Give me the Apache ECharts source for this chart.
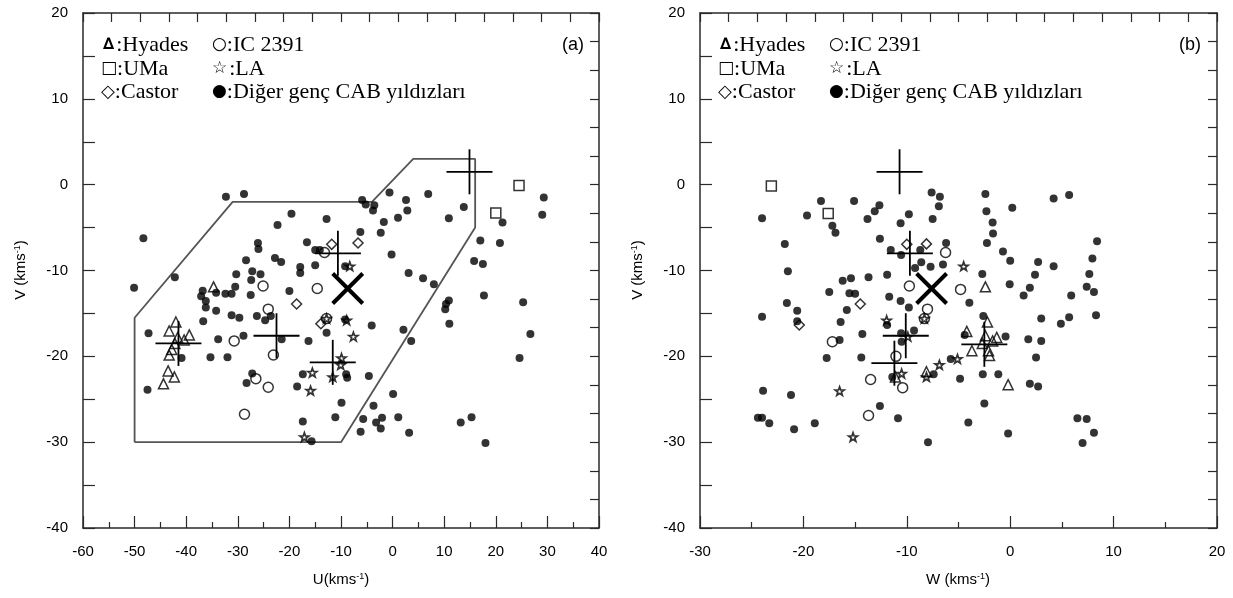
<!DOCTYPE html>
<html><head><meta charset="utf-8">
<script src="https://cdn.jsdelivr.net/npm/echarts@6/dist/echarts.min.js"></script>
<style>html,body{margin:0;padding:0;background:#fff}#c{width:1233px;height:598px}</style>
</head><body><div id="c"></div>
<script>
// ---------- DATA ----------
// Panel (a): [U, V]   Panel (b): [W, V]
const hyadesUV = [[-34.7,-11.9],[-42.0,-16.0],[-43.3,-17.05],[-39.4,-17.5],[-41.65,-17.8],[-40.4,-18.1],[-42.2,-18.5],[-42.8,-19.2],[-43.3,-19.85],[-43.5,-21.7],[-42.3,-22.4],[-44.4,-23.2]];
const hyadesWV = [[-2.4,-11.9],[-2.2,-16.0],[-4.2,-17.1],[-2.4,-17.6],[-1.3,-17.8],[-1.7,-18.2],[-2.7,-18.5],[-3.7,-19.35],[-2.1,-19.35],[-2.0,-19.9],[-8.1,-21.8],[-11.1,-22.4],[-0.2,-23.3]];
const ic2391UV = [[-13.2,-7.9],[-25.1,-11.8],[-14.6,-12.1],[-24.1,-14.5],[-12.8,-15.6],[-30.7,-18.2],[-23.1,-19.85],[-26.5,-22.6],[-24.1,-23.6],[-28.7,-26.75]];
const ic2391WV = [[-6.25,-7.9],[-9.75,-11.8],[-4.8,-12.2],[-8.0,-14.5],[-8.3,-15.6],[-17.2,-18.3],[-11.05,-20.0],[-13.5,-22.7],[-10.4,-23.65],[-13.7,-26.9]];
const umaUV = [[24.5,-0.1],[20.0,-3.3]];
const umaWV = [[-23.1,-0.15],[-17.6,-3.35]];
const laUV = [[-8.3,-9.5],[-7.6,-17.7],[-9.9,-20.2],[-10.05,-21.0],[-15.55,-21.9],[-15.9,-24.0],[-11.6,-22.4],[-17.1,-29.4],[-12.8,-15.6],[-8.9,-15.8]];
const laWV = [[-4.5,-9.5],[-9.9,-17.7],[-10.5,-22.0],[-8.1,-22.4],[-6.85,-21.0],[-5.1,-20.3],[-16.5,-24.05],[-15.2,-29.4],[-8.3,-15.6],[-11.95,-15.8]];
const castorUV = [[-11.8,-6.95],[-6.7,-6.8],[-18.6,-13.9],[-13.9,-16.2]];
const castorWV = [[-10.0,-6.95],[-8.1,-6.9],[-14.5,-13.9],[-20.4,-16.35]];
const othersUV = [
 [-32.3,-1.4],[-28.8,-1.1],[-48.3,-6.25],[-19.6,-3.4],[-22.3,-4.7],[-12.8,-4.0],[-26.1,-6.8],[-26.0,-7.5],[-16.6,-6.7],[-15.0,-7.6],[-14.1,-7.6],
 [-22.8,-8.55],[-21.6,-9.0],[-28.4,-8.8],[-17.9,-9.6],[-17.9,-10.3],[-15.0,-9.4],[-27.2,-10.1],[-25.6,-10.45],[-30.3,-10.45],[-27.4,-11.1],
 [-42.2,-10.8],[-50.1,-12.0],[-30.5,-11.9],[-36.8,-12.35],[-37.1,-13.0],[-34.2,-12.6],[-32.4,-12.7],[-31.2,-12.7],[-27.5,-12.85],[-36.2,-13.55],
 [-20.0,-12.4],[-36.2,-14.3],[-34.2,-14.7],[-31.2,-15.2],[-29.7,-15.5],[-26.3,-15.3],[-9.2,-9.5],[-9.2,-15.7],
 [-5.9,-1.8],[-5.2,-2.3],[-3.55,-2.4],[-3.8,-3.0],[-0.6,-0.9],[2.6,-1.8],[2.85,-3.0],[6.9,-1.1],[1.05,-3.85],[-1.7,-4.35],[-6.25,-5.5],[-2.3,-5.6],
 [10.9,-3.9],[13.8,-2.6],[21.3,-4.4],[17.0,-6.5],[20.8,-6.8],[29.3,-1.5],[29.0,-3.5],[-0.2,-8.15],[15.8,-8.9],[17.5,-9.25],[3.1,-10.3],[5.9,-10.9],
 [8.0,-11.6],[17.7,-12.9],[25.3,-13.7],[10.9,-13.5],[10.35,-13.9],[10.2,-14.5],
 [11.0,-16.2],[-4.05,-16.4],[2.1,-16.9],[3.6,-18.2],[26.7,-17.4],[24.6,-20.2],[-9.0,-22.1],[-8.8,-22.5],[-4.6,-22.3],[0.1,-24.4],[-9.9,-25.4],
 [-3.7,-25.75],[-5.7,-27.3],[-3.2,-27.7],[-2.05,-27.15],[-2.3,-28.4],[1.1,-27.1],[-6.2,-28.8],[3.2,-28.9],[13.2,-27.7],[15.3,-27.1],[18.0,-30.1],
 [-24.7,-15.8],[-23.6,-15.3],[-36.7,-15.9],[-47.3,-17.3],[-33.8,-18.0],[-28.9,-17.6],[-40.9,-20.2],[-35.3,-20.1],[-32.0,-20.1],[-21.5,-18.0],
 [-16.3,-18.2],[-12.8,-17.25],[-27.2,-22.0],[-28.3,-23.1],[-47.5,-23.9],[-17.4,-22.1],[-18.5,-23.5],[-11.1,-27.1],[-17.4,-27.6],[-15.7,-29.9]
];
const othersWV = [
 [-24.0,-3.9],[-18.3,-1.9],[-15.1,-1.9],[-19.65,-3.6],[-17.2,-4.8],[-16.9,-5.6],[-13.8,-4.0],[-13.1,-3.1],[-12.65,-2.4],[-9.8,-3.45],[-10.6,-4.5],
 [-7.6,-0.9],[-6.8,-1.4],[-6.9,-2.5],[-7.5,-4.0],[-21.8,-6.9],[-12.6,-6.3],[-11.55,-7.6],[-10.55,-8.2],[-8.7,-7.6],[-6.2,-6.8],[-8.6,-9.05],
 [-7.7,-9.55],[-9.2,-9.7],[-6.5,-9.3],[-21.5,-10.1],[-11.9,-10.5],[-13.7,-10.8],[-15.4,-10.9],[-16.2,-11.2],[-17.5,-12.5],[-15.55,-12.65],
 [-15.0,-12.7],[-11.7,-13.05],[-10.6,-13.55],[-9.8,-14.3],[-21.6,-13.8],[-20.6,-14.7],[-15.8,-14.6],[-24.0,-15.4],
 [-2.4,-1.1],[-2.3,-3.1],[0.2,-2.7],[-1.7,-4.4],[-1.66,-5.7],[-2.25,-6.8],[4.2,-1.6],[5.7,-1.2],[8.4,-6.6],[-0.7,-7.8],[0.0,-8.85],[2.7,-9.0],
 [4.2,-9.5],[7.95,-8.6],[-2.7,-10.4],[2.4,-10.5],[7.65,-10.4],[-0.05,-11.6],[1.9,-12.0],[1.3,-12.9],[7.4,-11.9],[8.1,-12.5],[5.9,-12.9],
 [-3.95,-13.75],[-2.6,-15.3],[3.0,-15.6],[5.7,-15.45],[8.3,-15.2],
 [-20.6,-15.9],[-16.4,-16.0],[-14.3,-17.4],[-16.5,-18.1],[-11.9,-16.35],[-10.55,-17.3],[-9.3,-17.0],[-10.5,-18.3],[-17.75,-20.2],[-14.4,-20.15],
 [-11.4,-22.4],[-7.4,-22.1],[-5.75,-20.3],[-4.85,-22.6],[-23.9,-24.0],[-21.2,-24.5],[-24.4,-27.15],[-24.0,-27.15],[-23.3,-27.8],[-20.9,-28.5],
 [-18.9,-27.8],[-12.6,-25.8],[-10.85,-27.2],[-7.95,-30.0],
 [4.9,-16.2],[-4.4,-17.5],[-0.45,-17.7],[1.75,-18.0],[3.0,-18.2],[2.5,-20.15],[-2.65,-22.1],[-1.15,-22.1],[1.9,-23.2],[2.7,-23.5],[-2.5,-25.5],
 [-4.05,-27.7],[-0.2,-29.0],[6.5,-27.2],[7.4,-27.3],[8.1,-28.9],[7.0,-30.1]
];
// moving-group centres (+ marks): Hyades, IC 2391, UMa, Castor, LA
const groupNames = ['Hyades','IC 2391','UMa','Castor','LA'];
const groupUV = [[-41.5,-18.5],[-22.5,-17.6],[14.9,1.5],[-10.6,-8.0],[-11.6,-20.7]];
const groupWV = [[-2.5,-18.6],[-10.1,-17.6],[-10.7,1.5],[-9.7,-8.0],[-11.2,-20.8]];
// sample mean (X mark)
const meanUV = [[-8.7,-12.1]];
const meanWV = [[-7.6,-12.1]];
// young-disc region boundary (panel a)
const regionUV = [[-50,-30],[-50,-15.5],[-31,-2],[-4,-2],[4,3],[16,3],[16,-5],[-10,-30],[-50,-30]];
// axis settings
const uRange = [-60, 40], wRange = [-30, 20], vRange = [-40, 20];
const legendRows = [[['tri','\u2206','Hyades'],['cir','\u25CB','IC 2391']],[['sq','\u25A1','UMa'],['st','\u2606','LA']],[['di','\u25C7','Castor'],['dot','\u25CF','Di\u011Fer gen\u00E7 CAB y\u0131ld\u0131zlar\u0131']]];

// ---------- CHART ----------
const chart = echarts.init(document.getElementById('c'), null, {renderer:'canvas'});
const AX = '#2a2a2a';
const lblFont = {fontFamily:'Liberation Sans, Arial, sans-serif', fontSize:15, color:'#000'};
const starPath = 'path://M0,-1 L0.235,-0.324 L0.951,-0.309 L0.380,0.124 L0.588,0.809 L0,0.4 L-0.588,0.809 L-0.380,0.124 L-0.951,-0.309 L-0.235,-0.324 Z';

function mainX(grid, r){
  return {gridIndex:grid, type:'value', min:r[0], max:r[1], interval:10, position:'bottom',
    axisLine:{onZero:false, lineStyle:{color:AX, width:1.5}},
    axisTick:{inside:true, length:12, lineStyle:{color:AX, width:1.2}},
    minorTick:{show:true, splitNumber:2, length:6, lineStyle:{color:AX, width:1.2}},
    axisLabel:Object.assign({margin:16}, lblFont), splitLine:{show:false}, minorSplitLine:{show:false}};
}
function mainY(grid){
  return {gridIndex:grid, type:'value', min:vRange[0], max:vRange[1], interval:10, position:'left',
    axisLine:{onZero:false, lineStyle:{color:AX, width:1.5}},
    axisTick:{inside:true, length:12, lineStyle:{color:AX, width:1.2}},
    minorTick:{show:true, splitNumber:2, length:12, lineStyle:{color:AX, width:1.2}},
    axisLabel:Object.assign({margin:15}, lblFont), splitLine:{show:false}, minorSplitLine:{show:false}};
}
function deco(grid, isX){
  return {gridIndex:grid, type:'value', min:0, max:18, interval:1, position: isX?'top':'right',
    axisLine:{onZero:false, lineStyle:{color:AX, width:1.5}},
    axisTick:{inside:true, length:9, lineStyle:{color:AX, width:1.2}},
    axisLabel:{show:false}, splitLine:{show:false}};
}
function scat(data, xi, yi, symbol, size, filled, bw){
  return {type:'scatter', xAxisIndex:xi, yAxisIndex:yi, data:data, symbol:symbol, symbolSize:size,
    itemStyle: filled ? {color:'#000', borderWidth:0} : {color:'rgba(0,0,0,0)', borderColor:'#000', borderWidth:bw||1.5},
    emphasis:{disabled:true}, silent:true, z:3};
}
function crosses(data, xi, yi){
  return {type:'custom', xAxisIndex:xi, yAxisIndex:yi, data:data, silent:true, z:4, encode:{x:0,y:1},
    renderItem:function(p, api){
      const c = api.coord([api.value(0), api.value(1)]);
      const st = {stroke:'#000', lineWidth:1.8};
      return {type:'group', children:[
        {type:'line', shape:{x1:c[0]-23, y1:c[1], x2:c[0]+23, y2:c[1]}, style:st},
        {type:'line', shape:{x1:c[0], y1:c[1]-22.5, x2:c[0], y2:c[1]+22.5}, style:st}]};
    }};
}
function bigX(data, xi, yi){
  return {type:'custom', xAxisIndex:xi, yAxisIndex:yi, data:data, silent:true, z:5, encode:{x:0,y:1},
    renderItem:function(p, api){
      const c = api.coord([api.value(0), api.value(1)]);
      const st = {stroke:'#000', lineWidth:4};
      const h = 15;
      return {type:'group', children:[
        {type:'line', shape:{x1:c[0]-h, y1:c[1]-h, x2:c[0]+h, y2:c[1]+h}, style:st},
        {type:'line', shape:{x1:c[0]-h, y1:c[1]+h, x2:c[0]+h, y2:c[1]-h}, style:st}]};
    }};
}
function panelSeries(xi, yi, d){
  return [
    scat(d.others, xi, yi, 'circle', 8, true),
    scat(d.hy, xi, yi, 'triangle', 10, false),
    scat(d.ic, xi, yi, 'circle', 10, false),
    scat(d.uma, xi, yi, 'rect', 10, false),
    scat(d.la, xi, yi, starPath, [9,8.6], false, 1.7),
    scat(d.ca, xi, yi, 'diamond', [10,10], false),
    crosses(d.groups, xi, yi),
    bigX(d.mean, xi, yi)
  ];
}

const serif = 'Liberation Serif, Times New Roman, serif';
const sans = 'DejaVu Sans, sans-serif';
const legRich = {
  t:{fontFamily:serif, fontSize:22, color:'#000'},
  tri:{fontFamily:'DejaVu Sans, sans-serif', fontWeight:'bold', fontSize:16, color:'#000', verticalAlign:'middle', padding:[0,2,0,2]},
  cir:{fontFamily:sans, fontSize:17, color:'#000'},
  sq:{fontFamily:sans, fontSize:17, color:'#555'},
  st:{fontFamily:sans, fontSize:17, color:'#000', padding:[0,2,0,0]},
  di:{fontFamily:sans, fontSize:18, color:'#000'},
  dot:{fontFamily:sans, fontSize:17, color:'#000'}
};
const graphics = [];
function legendAt(x0, x1, tag, tagX){
  const ys = [45, 69, 92];
  legendRows.forEach(function(r, i){
    [x0, x1].forEach(function(x, j){
      const e = r[j];
      graphics.push({type:'text', x:x, y:ys[i], style:{text:'{'+e[0]+'|'+e[1]+'}{t|:'+e[2]+'}', rich:legRich, textVerticalAlign:'middle', verticalAlign:'middle'}});
    });
  });
  graphics.push({type:'text', x:tagX, y:45, style:{text:tag, font:'18px Liberation Sans, Arial, sans-serif', fill:'#000', textAlign:'center', align:'center', textVerticalAlign:'middle', verticalAlign:'middle'}});
}
legendAt(101, 212, '(a)', 573);
legendAt(718, 829, '(b)', 1190);
function axName(x, y, txt, rot){
  graphics.push({type:'text', x:x, y:y, rotation:rot||0, style:{text:'{n|'+txt+'(kms}{s|-1}{n|)}', fill:'#000', textAlign:'center', align:'center', textVerticalAlign:'middle', verticalAlign:'middle',
    rich:{n:{fontSize:15, fontFamily:'Liberation Sans, Arial, sans-serif', color:'#000'}, s:{fontSize:9, fontFamily:'Liberation Sans, Arial, sans-serif', verticalAlign:'top', color:'#000'}}}});
}
axName(341, 580, 'U');
axName(958, 580, 'W ');
axName(21, 270, 'V ', Math.PI/2);
axName(638, 270, 'V ', Math.PI/2);

const option = {
  animation:false,
  backgroundColor:'#fff',
  grid:[{left:83, top:13, width:516, height:515}, {left:700, top:13, width:517, height:515}],
  xAxis:[mainX(0, uRange), deco(0, true), mainX(1, wRange), deco(1, true)],
  yAxis:[mainY(0), deco(0, false), mainY(1), deco(1, false)],
  series: [].concat(
    [{type:'line', xAxisIndex:0, yAxisIndex:0, data:regionUV, symbol:'none', silent:true, z:2,
      lineStyle:{color:'#555', width:1.8}}],
    panelSeries(0, 0, {others:othersUV, hy:hyadesUV, ic:ic2391UV, uma:umaUV, la:laUV, ca:castorUV, groups:groupUV, mean:meanUV}),
    panelSeries(2, 2, {others:othersWV, hy:hyadesWV, ic:ic2391WV, uma:umaWV, la:laWV, ca:castorWV, groups:groupWV, mean:meanWV})
  ),
  graphic: graphics
};
chart.setOption(option);
</script>
</body></html>
